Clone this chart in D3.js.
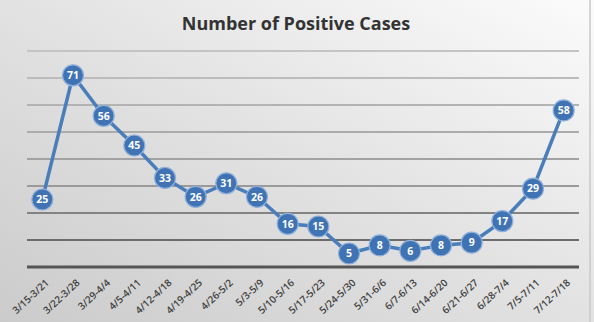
<!DOCTYPE html>
<html><head><meta charset="utf-8">
<script src="https://cdn.jsdelivr.net/npm/d3@7"></script>
<style>html,body{margin:0;padding:0;overflow:hidden;background:#e6e6e6}</style>
</head><body>
<script>
const weeks = ["3/15-3/21","3/22-3/28","3/29-4/4","4/5-4/11","4/12-4/18","4/19-4/25","4/26-5/2","5/3-5/9","5/10-5/16","5/17-5/23","5/24-5/30","5/31-6/6","6/7-6/13","6/14-6/20","6/21-6/27","6/28-7/4","7/5-7/11","7/12-7/18"];
const cases = [25,71,56,45,33,26,31,26,16,15,5,8,6,8,9,17,29,58];
const yTicks = [0,10,20,30,40,50,60,70,80];
const title = "Number of Positive Cases";

const W = 594, H = 322;
const m = {left: 27, right: 15, top: 51, bottom: 55};
const svg = d3.select("body").append("svg").attr("width", W).attr("height", H);
const defs = svg.append("defs");
const g1 = defs.append("linearGradient").attr("id","bg").attr("x1","0").attr("y1","1").attr("x2","1").attr("y2","0");
g1.append("stop").attr("offset","0").attr("stop-color","#cbcbcb");
g1.append("stop").attr("offset","0.5").attr("stop-color","#e2e2e2");
g1.append("stop").attr("offset","1").attr("stop-color","#fbfbfb");
svg.append("rect").attr("width",W).attr("height",H).attr("fill","url(#bg)");
svg.append("line").attr("x1",590).attr("x2",590).attr("y1",0).attr("y2",H).attr("stroke","#c8c8c8").attr("stroke-width",1.5);

const x = d3.scaleBand().domain(weeks).range([m.left, W - m.right]);
const y = d3.scaleLinear().domain([0,80]).range([H - m.bottom, m.top]);

const gridColor = d3.scaleLinear().domain([0,30,80]).range(["#555","#9a9a9a","#c4c4c4"]);
svg.append("g").selectAll("line").data(yTicks).join("line")
  .attr("x1", m.left).attr("x2", W - m.right)
  .attr("y1", d => y(d)).attr("y2", d => y(d))
  .attr("stroke", d => gridColor(d)).attr("stroke-width", d => d === 0 ? 3 : 2);

svg.append("text").attr("x", 296).attr("y", 30).attr("text-anchor","middle")
  .attr("font-family","'Open Sans', sans-serif").attr("font-weight","bold").attr("font-size",18)
  .attr("fill","#333").text(title);

const cx = d => x(d) + x.bandwidth()/2;
const line = d3.line().x((d,i) => cx(weeks[i])).y(d => y(d));
svg.append("path").datum(cases).attr("d", line).attr("fill","none")
  .attr("stroke","#4a7ebb").attr("stroke-width",3.5);

const pts = svg.append("g").selectAll("g").data(cases).join("g")
  .attr("transform",(d,i)=>`translate(${cx(weeks[i])},${y(d)})`);
pts.append("circle").attr("r",10.5).attr("fill","#3f73b3").attr("stroke","#8fb0da").attr("stroke-width",1.2);
pts.append("text").attr("text-anchor","middle").attr("dy","0.36em")
  .attr("font-family","'Open Sans', sans-serif").attr("font-weight","bold").attr("font-size",10.5)
  .attr("fill","#fff").text(d => d);

svg.append("g").selectAll("text").data(weeks).join("text")
  .attr("transform", d => `translate(${cx(d)+5},${H - m.bottom + 14}) rotate(-43)`)
  .attr("text-anchor","end").attr("dy","0.35em")
  .attr("font-family","'Open Sans', sans-serif").attr("font-weight","600").attr("font-size",10)
  .attr("fill","#404040").text(d => d);
</script>
</body></html>
